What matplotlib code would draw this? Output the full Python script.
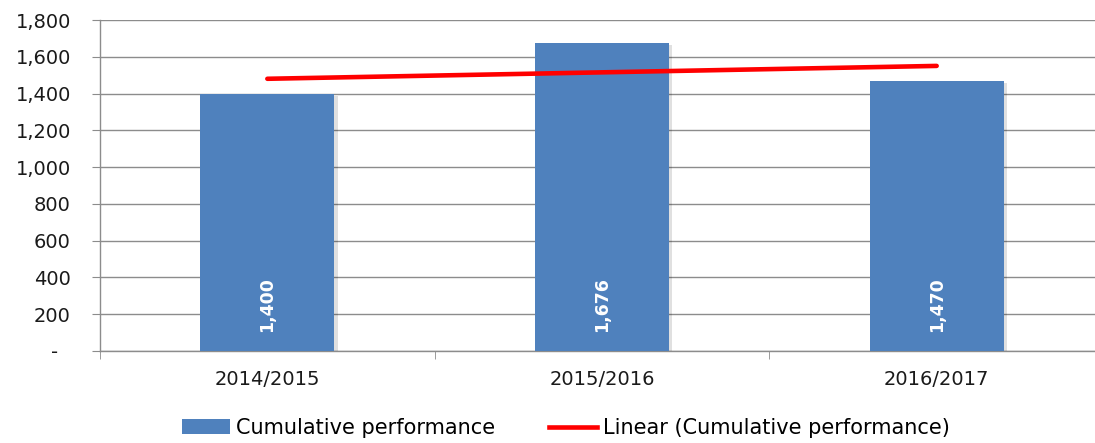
import matplotlib
matplotlib.use("Agg")
import matplotlib.pyplot as plt
import matplotlib.patheffects as pe
from matplotlib.lines import Line2D
from matplotlib.patches import Patch
import numpy as np

# data
seasons = ["2014/2015", "2015/2016", "2016/2017"]
performance = [1400, 1676, 1470]
yticks = [0, 200, 400, 600, 800, 1000, 1200, 1400, 1600, 1800]

bar_color = "#4F81BD"
grid_color = "#8C8C8C"

plt.rcParams["font.family"] = ["DejaVu Sans"]

fig = plt.figure(figsize=(10.95, 4.43), dpi=100)
ax = fig.add_axes([100 / 1095, 92 / 443, 1004 / 1095, 331 / 443])

x = np.arange(len(seasons))
bars = ax.bar(x, performance, width=0.4, color=bar_color, zorder=3,
              path_effects=[pe.SimplePatchShadow(offset=(2.5, -1.5), shadow_rgbFace="#000000", alpha=0.12),
                            pe.Normal()])

# linear trendline (as Excel does it)
k, b = np.polyfit(x, performance, 1)
trend = k * x + b
ax.plot(x, trend, color="#FF0000", lw=3.3, solid_capstyle="round", zorder=4)

# values inside the bars, rotated
for xi, v in zip(x, performance):
    ax.annotate(f"{v:,}", xy=(xi, 0), xytext=(0, 13.5), textcoords="offset points",
                rotation=90, ha="center", va="bottom", color="white",
                fontsize=12.5, fontweight="bold", zorder=5)

ax.set_xlim(-0.5, len(seasons) - 0.5)
ax.set_ylim(0, 1800)
ax.set_yticks(yticks)
ax.set_yticklabels(["-  "] + [f"{t:,}" for t in yticks[1:]])
ax.set_xticks(x)
ax.set_xticklabels(seasons)
ax.set_xticks(np.arange(-0.5, len(seasons)), minor=True)

ax.grid(axis="y", color=grid_color, lw=1, zorder=0)
ax.set_axisbelow(True)
for s in ["top", "right"]:
    ax.spines[s].set_visible(False)
for s in ["left", "bottom"]:
    ax.spines[s].set_color(grid_color)
    ax.spines[s].set_linewidth(1)

ax.tick_params(axis="y", length=6, color=grid_color, pad=15, labelsize=14, labelcolor="#1a1a1a")
ax.tick_params(axis="x", which="major", length=0, pad=14, labelsize=14, labelcolor="#1a1a1a")
ax.tick_params(axis="x", which="minor", length=6, color=grid_color)

handles = [Patch(facecolor=bar_color, edgecolor="none"),
           Line2D([0], [0], color="#FF0000", lw=3.3)]
fig.legend(handles, ["Cumulative performance", "Linear (Cumulative performance)"],
           loc="center", bbox_to_anchor=(566 / 1095, 1 - 428 / 443), ncol=2, frameon=False,
           fontsize=15, handlelength=2.3, handletextpad=0.3, columnspacing=2.6)

fig.savefig("out.png", dpi=100)
